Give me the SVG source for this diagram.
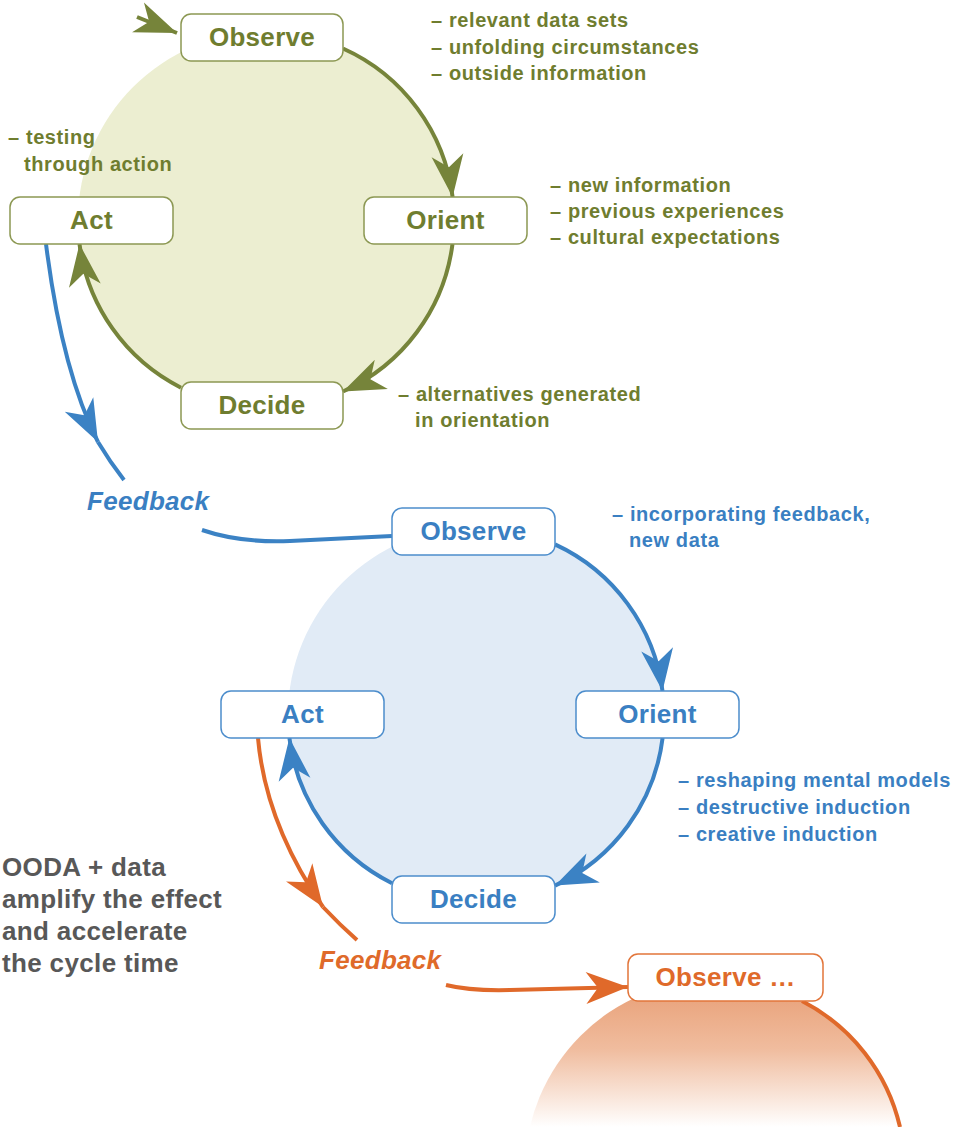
<svg xmlns="http://www.w3.org/2000/svg" width="958" height="1127" viewBox="0 0 958 1127">
<style>
.box{fill:#fff;stroke-width:1.5}
.g .box{stroke:#8C9853}
.b .box{stroke:#4C8DCC}
.o .box{stroke:#E2753A}
.lbl{font-family:"Liberation Sans",Arial,sans-serif;font-weight:bold;font-size:26px;letter-spacing:0.3px;text-anchor:middle}
.ann{font-family:"Liberation Sans",Arial,sans-serif;font-weight:bold;font-size:20px;letter-spacing:0.6px}
.gt{fill:#6F7D2F}
.bt{fill:#3A7FC2}
.ot{fill:#DF6A2A}
.fb{font-family:"Liberation Sans",Arial,sans-serif;font-weight:bold;font-style:italic;font-size:26px;letter-spacing:0.3px}
.gray{font-family:"Liberation Sans",Arial,sans-serif;font-weight:bold;font-size:26px;letter-spacing:0.35px;fill:#585858}
.cg{fill:none;stroke:#76843A;stroke-width:4}
.cb{fill:none;stroke:#3B82C4;stroke-width:4}
.co{fill:none;stroke:#E0692A;stroke-width:4}
</style>
<defs>
<marker id="ag" markerUnits="userSpaceOnUse" markerWidth="48" markerHeight="38" viewBox="-44 -19 46 38" refX="0" refY="0" orient="auto"><path d="M0,0 L-42,-16 L-30,0 L-42,16 Z" fill="#76843A"/></marker>
<marker id="ab" markerUnits="userSpaceOnUse" markerWidth="48" markerHeight="38" viewBox="-44 -19 46 38" refX="0" refY="0" orient="auto"><path d="M0,0 L-42,-16 L-30,0 L-42,16 Z" fill="#3B82C4"/></marker>
<marker id="ao" markerUnits="userSpaceOnUse" markerWidth="48" markerHeight="38" viewBox="-44 -19 46 38" refX="0" refY="0" orient="auto"><path d="M0,0 L-42,-16 L-30,0 L-42,16 Z" fill="#E0692A"/></marker>
<linearGradient id="og" gradientUnits="userSpaceOnUse" x1="0" y1="985" x2="0" y2="1127">
<stop offset="0" stop-color="#E89F76"/>
<stop offset="0.45" stop-color="#F0BC9E"/>
<stop offset="1" stop-color="#FFFFFF"/>
</linearGradient>
</defs>

<g id="backgrounds">
<circle cx="266" cy="220" r="188" fill="#ECEED1"/>
<circle cx="476" cy="715" r="188" fill="#E1EBF6"/>
<circle cx="715" cy="1170" r="190" fill="url(#og)"/>
</g>

<g id="connectors">
<path class="cg" d="M137,17 L177,33" marker-end="url(#ag)"/>
<path class="cg" d="M343,48.5 A188,188 0 0 1 452.6,197" marker-end="url(#ag)"/>
<path class="cg" d="M452.5,244 A188,188 0 0 1 343,391.5" marker-end="url(#ag)"/>
<path class="cg" d="M181,387.7 A188,188 0 0 1 79.5,244" marker-end="url(#ag)"/>
<path class="cb" d="M46,244 Q62,371 98,442" marker-end="url(#ab)"/>
<path class="cb" d="M98,442 Q110,462 124,480"/>
<path class="cb" d="M202,530 Q240,543 290,541 L392,536"/>
<path class="cb" d="M555,544.4 A188,188 0 0 1 662.5,691" marker-end="url(#ab)"/>
<path class="cb" d="M662.6,738 A188,188 0 0 1 555,885.6" marker-end="url(#ab)"/>
<path class="cb" d="M392,883.2 A188,188 0 0 1 289.4,738" marker-end="url(#ab)"/>
<path class="co" d="M258,738 Q265.5,823.5 323,907" marker-end="url(#ao)"/>
<path class="co" d="M323,907 Q340,925 357,940"/>
<path class="co" d="M446,985 Q470,991 510,990 L628,987" marker-end="url(#ao)"/>
<path class="co" d="M802,1001 A190,190 0 0 1 900,1127"/>
</g>

<g id="observe1" class="g"><rect class="box" x="181" y="14" width="162" height="47" rx="10"/><text class="lbl gt" x="262" y="46">Observe</text></g>
<g id="orient1" class="g"><rect class="box" x="364" y="197" width="163" height="47" rx="10"/><text class="lbl gt" x="445.5" y="229">Orient</text></g>
<g id="decide1" class="g"><rect class="box" x="181" y="382" width="162" height="47" rx="10"/><text class="lbl gt" x="262" y="414">Decide</text></g>
<g id="act1" class="g"><rect class="box" x="10" y="197" width="163" height="47" rx="10"/><text class="lbl gt" x="91.5" y="229">Act</text></g>

<g id="observe2" class="b"><rect class="box" x="392" y="508" width="163" height="47" rx="10"/><text class="lbl bt" x="473.5" y="540">Observe</text></g>
<g id="orient2" class="b"><rect class="box" x="576" y="691" width="163" height="47" rx="10"/><text class="lbl bt" x="657.5" y="723">Orient</text></g>
<g id="decide2" class="b"><rect class="box" x="392" y="876" width="163" height="47" rx="10"/><text class="lbl bt" x="473.5" y="908">Decide</text></g>
<g id="act2" class="b"><rect class="box" x="221" y="691" width="163" height="47" rx="10"/><text class="lbl bt" x="302.5" y="723">Act</text></g>

<g id="observe3" class="o"><rect class="box" x="628" y="954" width="195" height="47" rx="10"/><text class="lbl ot" x="725.5" y="986">Observe …</text></g>

<g id="annotations">
<text class="ann gt" x="431" y="27">– relevant data sets</text>
<text class="ann gt" x="431" y="54">– unfolding circumstances</text>
<text class="ann gt" x="431" y="80">– outside information</text>
<text class="ann gt" x="8" y="144">– testing</text>
<text class="ann gt" x="24" y="171">through action</text>
<text class="ann gt" x="550" y="192">– new information</text>
<text class="ann gt" x="550" y="218">– previous experiences</text>
<text class="ann gt" x="550" y="244">– cultural expectations</text>
<text class="ann gt" x="398" y="401">– alternatives generated</text>
<text class="ann gt" x="415" y="427">in orientation</text>
<text class="ann bt" x="612" y="521">– incorporating feedback,</text>
<text class="ann bt" x="629" y="547">new data</text>
<text class="ann bt" x="678" y="787">– reshaping mental models</text>
<text class="ann bt" x="678" y="814">– destructive induction</text>
<text class="ann bt" x="678" y="841">– creative induction</text>
<text class="fb bt" x="87" y="510">Feedback</text>
<text class="fb ot" x="319" y="969">Feedback</text>
<text class="gray" x="2" y="876">OODA + data</text>
<text class="gray" x="2" y="908">amplify the effect</text>
<text class="gray" x="2" y="940">and accelerate</text>
<text class="gray" x="2" y="972">the cycle time</text>
</g>
</svg>
